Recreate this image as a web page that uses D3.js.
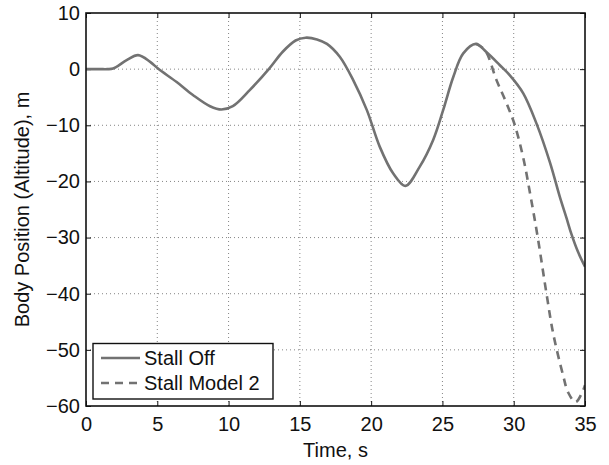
<!DOCTYPE html>
<html><head><meta charset="utf-8">
<script src="https://cdn.jsdelivr.net/npm/d3@7"></script>
<style>body{margin:0;background:#fff}svg{display:block}text{font-family:"Liberation Sans",Arial,sans-serif;fill:#111}</style>
</head><body><svg id="c" width="609" height="465"></svg>
<script>
const xTicks=[0,5,10,15,20,25,30,35];
const yTicks=[10,0,-10,-20,-30,-40,-50,-60];
const offT=[0,1,1.5,1.9,2.85,3.65,4.5,5.05,6.36,7.5,8.7,9.5,10.3,11.5,12.85,13.8,14.7,15.4,16.2,16.9,17.8,18.75,19.7,20.6,21.55,22.4,23.4,24.35,25.05,25.76,26.46,27.35,28.1,29.03,29.73,30.67,31.6,32.54,33.24,33.7,34.05,34.5,35];
const offV=[0,0,0,0.1,1.6,2.5,1.3,0.1,-2.3,-4.6,-6.6,-7.2,-6.6,-3.7,0.1,3.1,5.1,5.6,5.3,4.5,2.2,-2.0,-7.3,-13.8,-18.6,-20.8,-17.4,-12.6,-7.3,-1.4,2.8,4.5,3.0,0.7,-1.1,-4.3,-9.7,-16.6,-22.8,-26.5,-29.4,-32.5,-35.2];
const m2T=[27.35,27.98,28.8,29.5,30.08,30.67,31.18,31.7,32.3,32.77,33.47,33.82,34.34,34.87,35];
const m2V=[4.5,3.4,-2.0,-6.1,-10,-15.8,-22.6,-30.2,-40,-47.1,-54.6,-57.6,-59.3,-57.2,-56.3];
const seriesNames=["Stall Off","Stall Model 2"];

const svg=d3.select("#c");
const L=86,R=585,T=13,B=406,FS="20px";
const x=d3.scaleLinear().domain([0,35]).range([L,R]);
const y=d3.scaleLinear().domain([-60,10]).range([B,T]);
const g=svg.append("g");
g.selectAll(".gx").data(xTicks.slice(1,-1)).enter().append("line")
 .attr("x1",d=>x(d)).attr("x2",d=>x(d)).attr("y1",T).attr("y2",B)
 .attr("stroke","#666").attr("stroke-width",0.8).attr("stroke-dasharray","1,3");
g.selectAll(".gy").data(yTicks.slice(1,-1)).enter().append("line")
 .attr("y1",d=>y(d)).attr("y2",d=>y(d)).attr("x1",L).attr("x2",R)
 .attr("stroke","#666").attr("stroke-width",0.8).attr("stroke-dasharray","1,3");
const fmt=d=>(d<0?"\u2212"+Math.abs(d):""+d);
const ax=svg.append("g").attr("transform",`translate(0,${B})`).call(d3.axisBottom(x).tickValues(xTicks).tickSizeInner(-5).tickSizeOuter(0).tickPadding(11).tickFormat(fmt));
const axT=svg.append("g").attr("transform",`translate(0,${T})`).call(d3.axisTop(x).tickValues(xTicks).tickSizeInner(-5).tickSizeOuter(0).tickFormat(""));
const ay=svg.append("g").attr("transform",`translate(${L},0)`).call(d3.axisLeft(y).tickValues(yTicks).tickSizeInner(-5).tickSizeOuter(0).tickPadding(6).tickFormat(fmt));
const ayR=svg.append("g").attr("transform",`translate(${R},0)`).call(d3.axisRight(y).tickValues(yTicks).tickSizeInner(-5).tickSizeOuter(0).tickFormat(""));
[ax,axT,ay,ayR].forEach(a=>{a.select(".domain").remove();a.selectAll("line").attr("stroke","#111").attr("stroke-width",1);a.selectAll("text").style("font-size",FS).attr("fill","#111");});
const lineGen=d3.line().x(d=>x(d[0])).y(d=>y(d[1])).curve(d3.curveCatmullRom.alpha(0.5));
svg.append("clipPath").attr("id","cp").append("rect").attr("x",L).attr("y",T).attr("width",R-L).attr("height",B-T);
const off=offT.map((t,i)=>[t,offV[i]]);
const m2=m2T.map((t,i)=>[t,m2V[i]]);
svg.append("path").attr("d",lineGen(off)).attr("fill","none").attr("stroke","#727272").attr("stroke-width",2.6).attr("clip-path","url(#cp)");
svg.append("path").attr("d",lineGen(m2)).attr("fill","none").attr("stroke","#727272").attr("stroke-width",2.6).attr("stroke-dasharray","8,6").attr("clip-path","url(#cp)");
svg.append("rect").attr("x",L).attr("y",T).attr("width",R-L).attr("height",B-T).attr("fill","none").attr("stroke","#111").attr("stroke-width",1.6);
svg.append("text").attr("x",(L+R)/2).attr("y",457).attr("text-anchor","middle").style("font-size",FS).text("Time, s");
svg.append("text").attr("transform",`translate(29,${(T+B)/2}) rotate(-90)`).attr("text-anchor","middle").style("font-size",FS).text("Body Position (Altitude), m");
const lg=svg.append("g");
lg.append("rect").attr("x",93).attr("y",343.5).attr("width",180).attr("height",55.5).attr("fill","#fff").attr("stroke","#111").attr("stroke-width",1.4);
const ly=[358,383];
seriesNames.forEach((n,i)=>{
 lg.append("line").attr("x1",101).attr("x2",140).attr("y1",ly[i]).attr("y2",ly[i]).attr("stroke","#727272").attr("stroke-width",2.6).attr("stroke-dasharray",i?"8,6":null);
 lg.append("text").attr("x",144).attr("y",ly[i]+7).style("font-size",FS).text(n);
});
</script></body></html>
